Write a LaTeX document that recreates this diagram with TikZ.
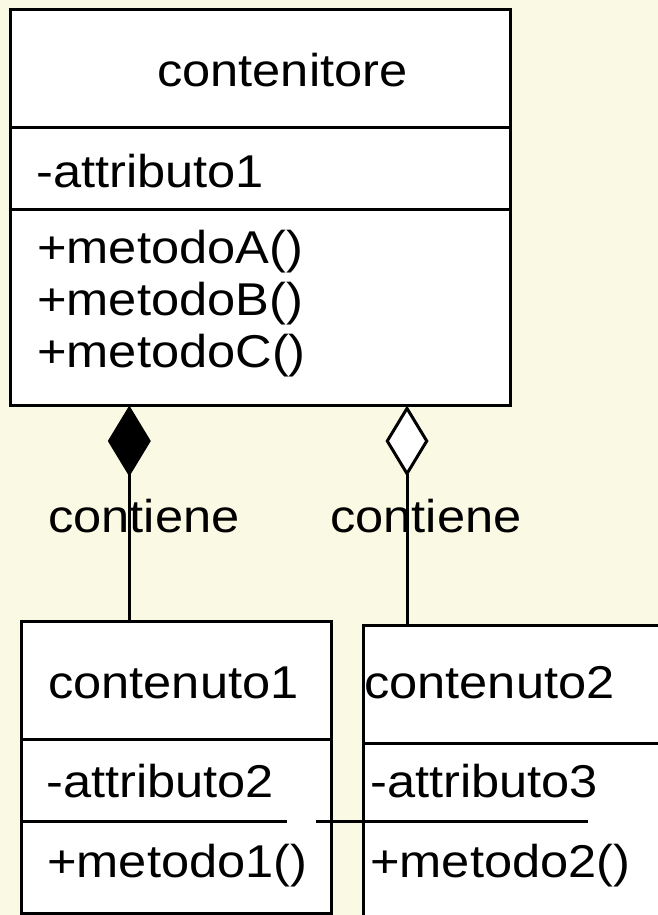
\documentclass[tikz,border=0pt]{standalone}
\usepackage{fontspec}
\setmainfont{Liberation Sans}[FakeStretch=1.1]
\usepackage{tikz}
\usetikzlibrary{arrows.meta}
\definecolor{sfondo}{RGB}{250,250,228}

\begin{document}
\begin{tikzpicture}[x=1pt,y=-1pt]
\tikzset{scomparto/.style = {shape=rectangle,draw,fill=white,line width=3pt,
anchor=north west,inner sep=0pt,outer sep=0pt}}
\tikzset{voce/.style = {anchor=base west,inner sep=0pt,font=\fontsize{46}{55}\selectfont}}
\tikzset{bordo/.style = {line width=3pt}}
\tikzset{composizione/.style = {line width=3pt,-{Diamond[length=71pt,width=43pt]}}}
\tikzset{aggregazione/.style = {line width=3pt,-{Diamond[length=71pt,width=43pt,fill=white]}}}
\path[use as bounding box,fill=sfondo] (0,0) rectangle (658,915);
\clip (0,0) rectangle (658,915);
% classes
\node[scomparto,minimum width=500pt,minimum height=117.5pt] (cnt-nome) at (10.5,10) {};
\node[scomparto,minimum width=500pt,minimum height=81.5pt] (cnt-attributi) at (10.5,127.5) {};
\node[scomparto,minimum width=500pt,minimum height=196.5pt] (cnt-metodi) at (10.5,209) {};
\node[scomparto,minimum width=309.5pt,minimum height=118pt] (c1-nome) at (21.5,621.5) {};
\node[scomparto,minimum width=309.5pt,minimum height=174pt] (c1-corpo) at (21.5,739.5) {};
\node[scomparto,minimum width=320pt,minimum height=118.5pt] (c2-nome) at (363.5,625) {};
\node[scomparto,minimum width=320pt,minimum height=200pt] (c2-corpo) at (363.5,743.5) {};
\draw[bordo] (21.5,821) -- (287,821);
\draw[bordo] (316,821) -- (588,821);
% texts
\node[voce] (t-cnt) at (157,87) {contenitore};
\node[voce] (t-attr1) at (36,187) {-attributo1};
\node[voce] (t-metA) at (37,263) {+metodoA()};
\node[voce] (t-metB) at (37,315) {+metodoB()};
\node[voce] (t-metC) at (37,367) {+metodoC()};
\node[voce] (t-c1) at (48,698) {contenuto1};
\node[voce] (t-attr2) at (46,797) {-attributo2};
\node[voce] (t-met1) at (47,877) {+metodo1()};
\node[voce] (t-c2) at (364,698) {contenuto2};
\node[voce] (t-attr3) at (370,797) {-attributo3};
\node[voce] (t-met2) at (370,877) {+metodo2()};
\node[voce] (contiene1) at (48,532) {contiene};
\node[voce] (contiene2) at (330,532) {contiene};
% edges
\coordinate (asseA) at (129.3,0);
\coordinate (asseB) at (407,0);
\draw[composizione] (asseA |- c1-nome.north) -- (asseA |- cnt-metodi.south);
\draw[aggregazione] (asseB |- c2-nome.north) -- (asseB |- cnt-metodi.south);
\end{tikzpicture}
\end{document}
